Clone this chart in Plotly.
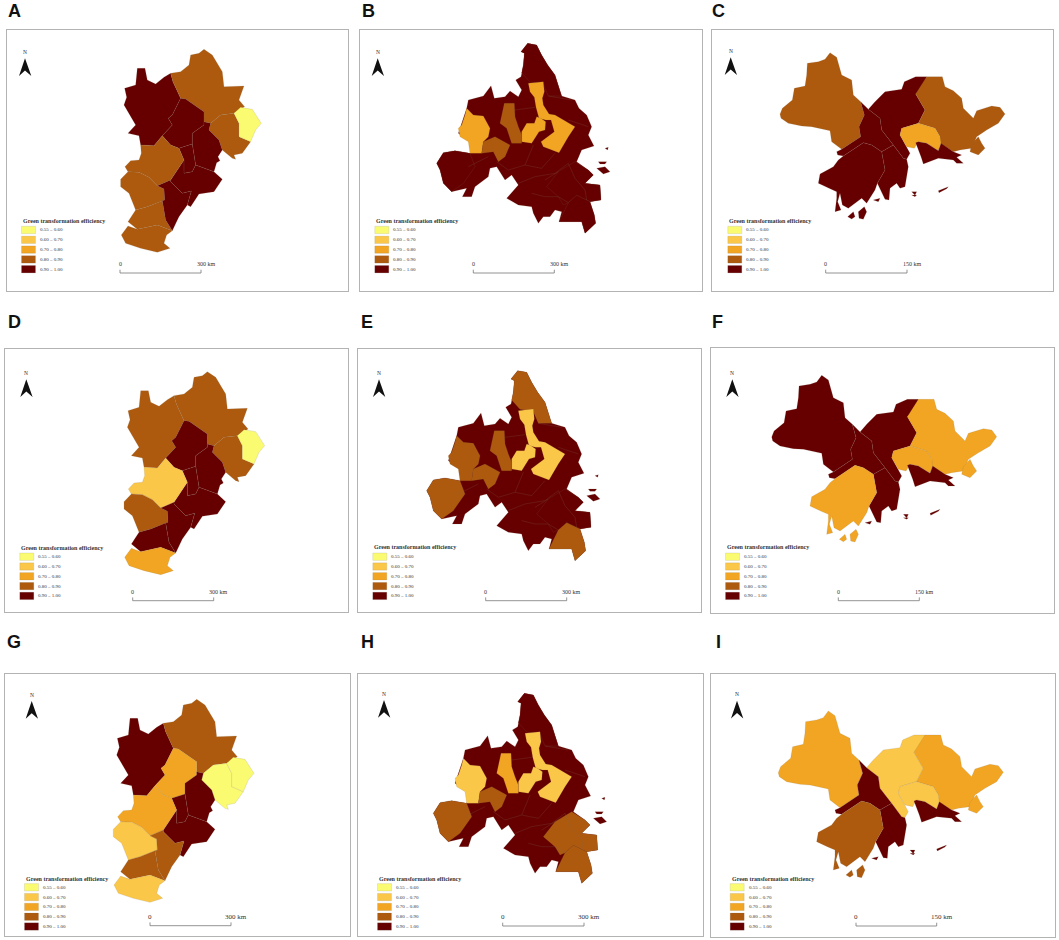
import plotly.graph_objects as go

W, H = 1059, 940
CLASS_LABELS = ["0.55 – 0.60", "0.60 – 0.70", "0.70 – 0.80", "0.80 – 0.90", "0.90 – 1.00"]
CLASS_COLORS = ["#FBFB72", "#FBC748", "#F1A522", "#AD5A0E", "#660000"]
LEGEND_TITLE = "Green transformation efficiency"
PANEL_LETTERS = list("ABCDEFGHI")

# ---- Beijing-Tianjin-Hebei outlines (map units) ----
B_ZJK = [(390,235),(413,235),(420,270),(445,282),(470,262),(490,250),(497,275),(520,325),(495,375),(483,385),(495,405),(465,437),(440,467),(400,465),(395,437),(362,430),(385,405),(367,375),(350,345),(358,322),(352,295),(385,285)]
B_CD = [(490,250),(520,245),(545,225),(550,195),(575,190),(590,178),(615,195),(632,225),(645,245),(650,290),(710,288),(695,330),(712,350),(680,370),(640,375),(610,400),(590,395),(590,365),(535,327),(520,325),(497,275)]
B_TS = [(605,420),(610,400),(640,375),(680,370),(695,400),(695,440),(730,455),(705,490),(680,495),(685,508),(675,505),(645,480),(635,450)]
B_QHD = [(680,370),(700,352),(735,358),(750,380),(762,400),(745,420),(730,455),(695,440),(695,400)]
B_MID = [(520,325),(535,327),(590,365),(590,395),(590,405),(555,430),(555,462),(515,475),(490,465),(465,437),(495,405),(483,385),(495,375)]
B_EA = [(590,395),(610,400),(605,420),(635,450),(645,480),(632,500),(638,512),(628,518),(620,545),(565,525),(555,462),(555,430),(590,405)]
B_EB = [(515,475),(555,462),(565,525),(555,545),(530,550),(530,510)]
B_EC = [(490,570),(530,510),(530,550),(555,545),(565,525),(620,545),(645,568),(620,605),(575,612),(550,650),(540,645),(552,603),(525,610),(490,575)]
B_SJZ = [(400,465),(440,467),(465,437),(490,465),(515,475),(530,510),(490,570),(450,587),(425,562),(395,547),(362,545),(353,530),(370,512),(395,510),(402,490)]
B_XT = [(340,568),(362,545),(395,547),(425,562),(450,587),(470,597),(472,630),(420,650),(385,660),(372,630),(365,610),(340,590)]
B_HD = [(385,660),(420,650),(465,632),(475,690),(495,722),(450,705),(390,718),(362,695)]
B_HS = [(450,587),(490,570),(490,575),(525,610),(552,603),(540,645),(515,680),(495,722),(475,690),(465,632),(472,630),(470,597)]
B_S = [(362,708),(390,718),(450,705),(495,722),(478,735),(470,760),(488,775),(450,787),(400,775),(355,760),(342,735)]
BTH = [B_ZJK, B_CD, B_TS, B_QHD, B_MID, B_EA, B_EB, B_EC, B_SJZ, B_XT, B_HD, B_HS, B_S]
BTH_A = [4,3,3,0,4,4,4,4,3,3,3,4,3]
BTH_D = [3,3,3,0,4,4,4,4,1,3,4,4,2]
BTH_G = [4,3,0,0,2,4,4,4,2,1,3,3,1]

# ---- Yangtze River Delta outlines (map units) ----
Y_MAIN = [(518,70),(545,75),(560,105),(578,135),(600,165),(612,200),(620,228),(660,240),(672,265),(695,285),(710,320),(700,345),(717,378),(680,390),(665,425),(700,450),(715,465),(690,490),(735,495),(738,540),(705,545),(718,585),(722,610),(690,640),(680,605),(612,605),(620,575),(600,570),(585,590),(565,590),(550,610),(535,580),(530,560),(490,555),(455,535),(490,495),(470,465),(450,480),(425,440),(405,445),(400,470),(360,500),(350,530),(322,530),(335,505),(290,515),(265,490),(255,450),(245,430),(265,398),(300,392),(345,400),(350,370),(310,340),(335,265),(340,240),(385,228),(408,197),(418,235),(450,230),(465,213),(490,230),(500,210),(482,180),(498,170),(505,135),(508,100),(498,95)]
Y_N = [(518,70),(545,75),(560,105),(578,135),(600,165),(612,200),(620,228),(580,228),(565,193),(525,186),(500,158),(505,135),(508,100),(498,95)]
Y_CH1 = [(520,190),(565,185),(568,215),(562,235),(565,255),(582,282),(600,285),(660,320),(640,350),(612,398),(565,380),(558,365),(598,335),(588,300),(572,300),(552,295),(543,262),(538,232),(525,215)]
Y_CH2 = [(500,335),(515,310),(538,310),(545,290),(558,295),(572,305),(570,330),(552,335),(530,370),(500,365)]
Y_WEST = [(310,325),(320,315),(330,285),(335,265),(355,285),(385,288),(405,325),(400,350),(385,365),(380,400),(345,400),(340,365),(315,350)]
Y_MID = [(435,310),(448,250),(478,250),(480,290),(490,320),(500,345),(500,370),(470,370),(455,325)]
Y_LOW = [(380,400),(385,365),(420,350),(465,375),(450,410),(430,425),(415,395)]
Y_SW = [(245,430),(265,398),(300,392),(345,400),(360,440),(325,490),(290,515),(265,490),(255,450)]
Y_SE = [(575,500),(610,455),(660,425),(700,450),(715,465),(690,490),(735,495),(738,540),(705,545),(665,526),(640,548),(625,555),(610,530)]
Y_TZ = [(612,605),(640,548),(665,526),(705,545),(718,585),(722,610),(690,640),(680,605)]
Y_ISL1 = [(725,445),(750,440),(765,455),(745,462)]
Y_ISL2 = [(730,425),(755,425),(750,432),(735,432)]
Y_ISL3 = [(750,385),(760,382),(758,390)]
YRD = [Y_MAIN, Y_N, Y_CH1, Y_CH2, Y_WEST, Y_MID, Y_LOW, Y_SW, Y_SE, Y_TZ, Y_ISL1, Y_ISL2, Y_ISL3]
YRD_B = [4,4,2,2,2,3,3,4,4,4,4,4,4]
YRD_E = [4,3,1,1,3,3,3,3,4,3,4,4,4]
YRD_H = [4,4,1,1,1,2,3,3,3,3,4,4,4]
YRD_SEAMS = [
    [(425,425),(460,450),(510,435),(535,375)],
    [(510,435),(560,445),(600,400)],
    [(490,490),(540,470),(600,460),(640,430)],
    [(530,520),(570,530),(610,530),(640,548)],
    [(640,430),(660,475),(690,510),(695,540)],
    [(570,480),(610,455)],
    [(340,440),(400,410)],
    [(480,270),(540,262)],
    [(580,228),(650,240)],
    [(640,300),(700,320)],
]

# ---- Greater Bay Area outlines (map units) ----
G_ZQ = [(225,283),(232,265),(262,240),(268,205),(300,198),(305,165),(307,130),(340,125),(360,118),(375,98),(395,112),(410,165),(440,180),(445,225),(467,245),(478,285),(462,320),(467,350),(410,388),(380,365),(375,332),(320,320),(290,318),(250,310),(228,295)]
G_FS = [(467,245),(490,268),(525,295),(530,330),(565,375),(530,395),(500,375),(475,368),(415,408),(398,405),(395,395),(410,388),(467,350),(462,320),(478,285)]
G_GZ = [(490,268),(510,245),(540,215),(590,208),(598,185),(632,170),(665,170),(660,197),(632,222),(660,270),(640,310),(590,325),(585,345),(605,380),(615,400),(605,418),(595,415),(565,375),(530,330),(525,295)]
G_ZH = [(530,395),(565,375),(595,415),(605,418),(610,440),(605,470),(600,500),(585,505),(575,490),(555,505),(552,540),(540,538),(517,490),(540,450)]
G_JM = [(345,462),(385,440),(400,420),(415,408),(475,368),(500,375),(530,395),(540,450),(517,490),(510,510),(485,550),(470,535),(430,565),(412,555),(405,520),(398,545),(408,570),(390,575),(395,535),(395,515),(372,505),(340,490)]
G_HZ = [(632,222),(665,170),(712,170),(720,200),(745,212),(770,235),(775,265),(805,295),(815,272),(860,258),(885,262),(900,282),(880,310),(845,330),(815,350),(800,385),(765,390),(745,395),(705,370),(705,350),(690,325),(640,310),(660,270)]
G_HZ2 = [(800,372),(820,350),(830,370),(840,385),(820,405),(795,395)]
G_DG = [(585,345),(590,325),(640,310),(690,325),(705,350),(708,370),(700,392),(665,370),(640,365),(628,385),(605,380)]
G_SZ = [(632,368),(640,365),(665,370),(700,392),(708,370),(745,395),(770,405),(755,412),(775,430),(755,430),(745,420),(700,415),(655,432),(648,410)]
G_JM2 = [(428,590),(445,575),(450,590),(440,597)]
G_JM3 = [(460,575),(478,560),(485,575),(475,598),(462,595)]
G_IS1 = [(620,515),(635,515),(630,526)]
G_IS2 = [(700,512),(730,500),(725,506),(702,518)]
G_IS3 = [(505,540),(525,535),(520,545)]
G_IS4 = [(620,525),(635,525),(630,530)]
GBA = [G_ZQ, G_GZ, G_HZ, G_HZ2, G_DG, G_SZ, G_FS, G_ZH, G_JM, G_JM2, G_JM3, G_IS1, G_IS2, G_IS3, G_IS4]
GBA_C = [3,4,3,3,2,4,4,4,4,4,4,4,4,4,4]
GBA_F = [4,4,2,2,2,4,4,4,2,2,2,4,4,4,4]
GBA_I = [2,1,2,2,1,4,4,4,3,3,3,4,4,4,4]

PANELS = [
    dict(L=7,   R=348,  T=30,  B=291, ox=7.3,   oy=-10,   map=BTH, cl=BTH_A, seams=[], leg=(21,221,230), arrow=(25,58.3),   bar=(120,201,273),    km="300 km", kmf=6, let=(14,11)),
    dict(L=360, R=702,  T=30,  B=291, ox=355,   oy=20,    map=YRD, cl=YRD_B, seams=YRD_SEAMS, leg=(374.3,221,230), arrow=(377.7,58.3), bar=(473.3,554.3,273), km="300 km", kmf=6, let=(368,11)),
    dict(L=712, R=1053, T=30,  B=291, ox=705,   oy=20,    map=GBA, cl=GBA_C, seams=[], leg=(727.3,221,230), arrow=(730.7,57.3), bar=(825.7,907,273), km="150 km", kmf=6, let=(718,11)),
    dict(L=5,   R=348,  T=349, B=612, ox=10.7,  oy=312.3, map=BTH, cl=BTH_D, seams=[], leg=(19.3,547.7,556.7), arrow=(26.3,379.3), bar=(132.7,213.7,600.7), km="300 km", kmf=6, let=(14,322)),
    dict(L=358, R=701,  T=349, B=612, ox=345,   oy=347.3, map=YRD, cl=YRD_E, seams=YRD_SEAMS, leg=(372.3,547.3,556.7), arrow=(379,379.3), bar=(485.7,566.7,600.7), km="300 km", kmf=6, let=(367,322)),
    dict(L=711, R=1054, T=348, B=613, ox=696.7, oy=342.7, map=GBA, cl=GBA_F, seams=[], leg=(725,547.3,556.7), arrow=(732.3,379.3), bar=(838.3,919.3,600.7), km="150 km", kmf=6, let=(717,322)),
    dict(L=5,   R=350,  T=674, B=936, ox=0,     oy=640,   map=BTH, cl=BTH_G, seams=[], leg=(24,878.7,887.3), arrow=(31.7,701), bar=(150,231,925.7), km="300 km", kmf=7, let=(14,642)),
    dict(L=358, R=703,  T=674, B=936, ox=351.7, oy=670,   map=YRD, cl=YRD_H, seams=YRD_SEAMS, leg=(377,878.7,887.3), arrow=(384,700), bar=(502.7,584,926), km="300 km", kmf=7, let=(367,642)),
    dict(L=711, R=1055, T=674, B=937, ox=703.3, oy=678.3, map=GBA, cl=GBA_I, seams=[], leg=(729.7,878.7,887.3), arrow=(737,700.7), bar=(856,936.7,926), km="150 km", kmf=7, let=(718,642)),
]

def px(x):
    return x / W

def py(y):
    return 1 - y / H

fig = go.Figure()
shapes, notes = [], []
layout = {}

def note(x, y, text, size, family="Liberation Serif", anchor="left", color="#333333", bold=False):
    notes.append(dict(x=px(x), y=py(y), xref="paper", yref="paper", showarrow=False, xanchor=anchor, yanchor="middle",
                      text=f"<b>{text}</b>" if bold else text, font=dict(size=size, family=family, color=color)))

for i, p in enumerate(PANELS):
    n = "" if i == 0 else str(i + 1)
    axis = dict(showline=True, mirror=True, linecolor="#B3B3B3", linewidth=1.4, ticks="", showticklabels=False, showgrid=False, zeroline=False)
    layout[f"xaxis{n}"] = dict(axis, domain=[px(p["L"]), px(p["R"])], range=[(p["L"] - p["ox"]) * 3, (p["R"] - p["ox"]) * 3], anchor=f"y{n}")
    layout[f"yaxis{n}"] = dict(axis, domain=[py(p["B"]), py(p["T"])], range=[(p["B"] - p["oy"]) * 3, (p["T"] - p["oy"]) * 3], anchor=f"x{n}")

    for poly, c in zip(p["map"], p["cl"]):
        xs = [v[0] for v in poly] + [poly[0][0]]
        ys = [v[1] for v in poly] + [poly[0][1]]
        fig.add_trace(go.Scatter(x=xs, y=ys, xaxis=f"x{n}", yaxis=f"y{n}", mode="lines", fill="toself", fillcolor=CLASS_COLORS[c],
                                 line=dict(color="rgba(125,105,85,0.3)", width=0.5), hoverinfo="skip", showlegend=False))
    for seam in p["seams"]:
        fig.add_trace(go.Scatter(x=[v[0] for v in seam], y=[v[1] for v in seam], xaxis=f"x{n}", yaxis=f"y{n}", mode="lines",
                                 line=dict(color="rgba(125,105,85,0.45)", width=0.5), hoverinfo="skip", showlegend=False))

    note(p["let"][0], p["let"][1], PANEL_LETTERS[i], 18, "Liberation Sans", "center", "#111111", True)

    lx, ty, sy = p["leg"]
    note(lx, ty, LEGEND_TITLE, 6, bold=True)
    for k, (lab, col) in enumerate(zip(CLASS_LABELS, CLASS_COLORS)):
        yc = sy + k * 9.8
        shapes.append(dict(type="rect", xref="paper", yref="paper", x0=px(lx + 0.5), x1=px(lx + 14.5), y0=py(yc - 3.7), y1=py(yc + 3.7),
                           fillcolor=col, line=dict(color="rgba(120,120,120,0.4)", width=0.4)))
        note(lx + 17, yc, lab, 5)

    ax, ay = p["arrow"]
    path = f"M{px(ax)},{py(ay)} L{px(ax-6)},{py(ay+17.7)} L{px(ax)},{py(ay+12.3)} L{px(ax+6.3)},{py(ay+17.7)} Z"
    shapes.append(dict(type="path", path=path, xref="paper", yref="paper", fillcolor="#111111", line=dict(width=0)))
    note(ax, ay - 6.5, "N", 5.5, anchor="center")

    x0, x1, by = p["bar"]
    bar_path = f"M{px(x0)},{py(by-3.3)} L{px(x0)},{py(by)} L{px(x1)},{py(by)} L{px(x1)},{py(by-3.3)}"
    shapes.append(dict(type="path", path=bar_path, xref="paper", yref="paper", line=dict(color="#777777", width=0.8)))
    note(x0, by - 9, "0", p["kmf"], anchor="center")
    note(x1 + 5, by - 9, p["km"], p["kmf"], anchor="center")

fig.update_layout(width=W, height=H, margin=dict(l=0, r=0, t=0, b=0), paper_bgcolor="white", plot_bgcolor="white",
                  showlegend=False, shapes=shapes, annotations=notes, **layout)
fig.write_html("out.html", config={"displayModeBar": False}, post_script="document.body.style.margin='0';")
